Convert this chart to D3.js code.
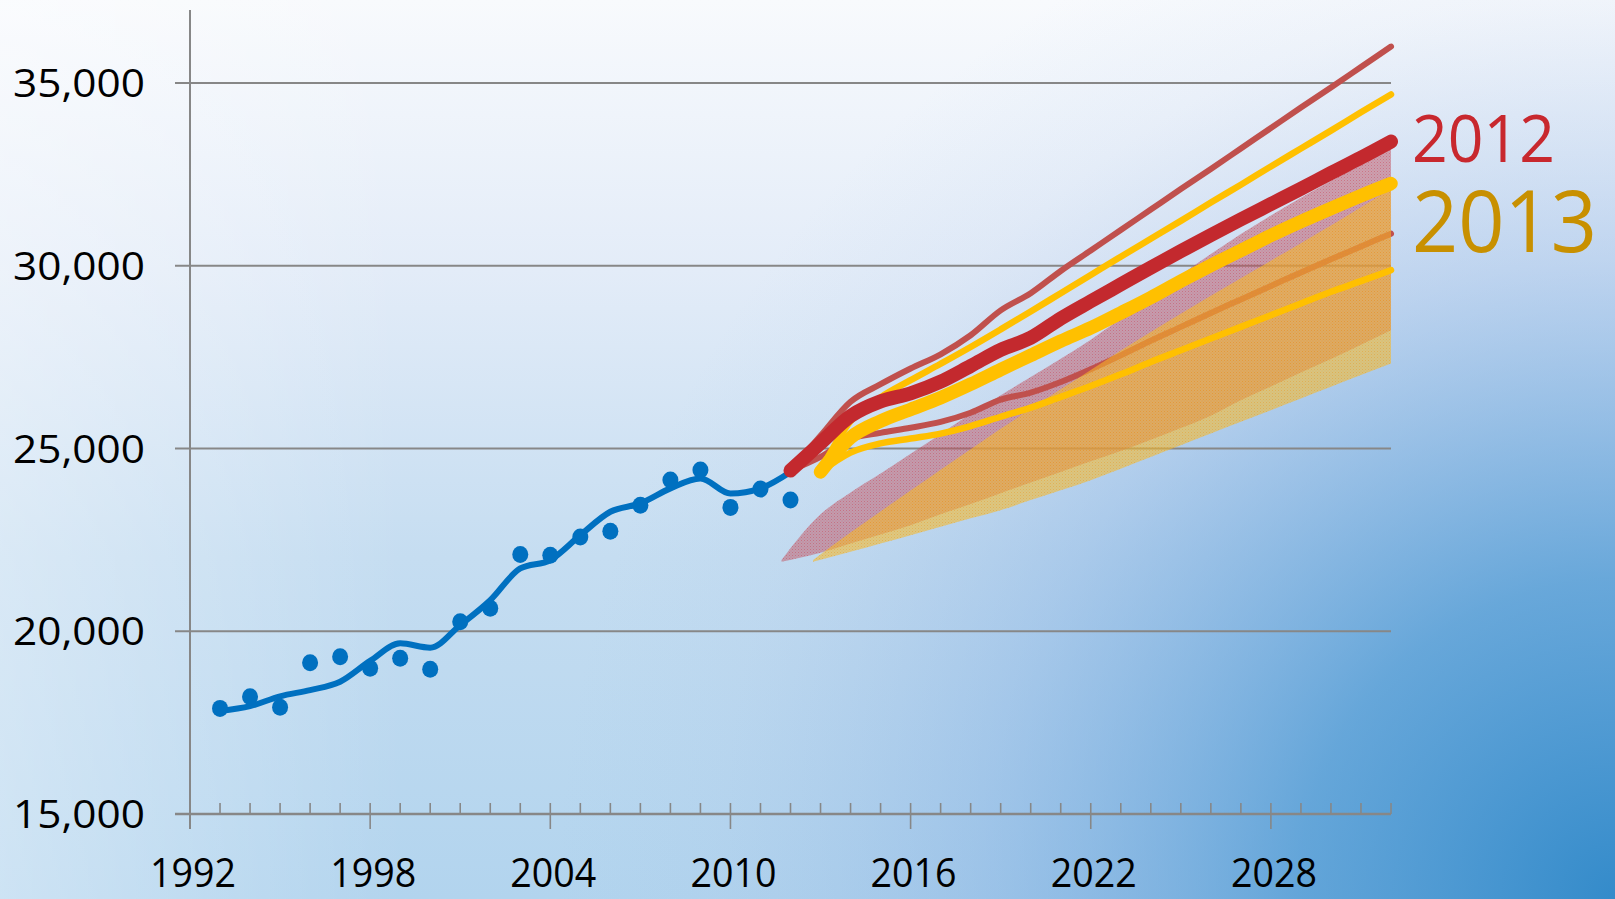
<!DOCTYPE html>
<html><head><meta charset="utf-8">
<script src="https://cdn.jsdelivr.net/npm/d3@7"></script>
<style>html,body{margin:0;padding:0;overflow:hidden;background:#fff}svg{display:block}</style>
</head><body>
<svg id="c" width="1615" height="899"></svg>
<script>
// ---------- DATA ----------
const histYears = [1993,1994,1995,1996,1997,1998,1999,2000,2001,2002,2003,2004,2005,2006,2007,2008,2009,2010,2011,2012];
const actual    = [17890,18210,17920,19140,19300,18990,19260,18960,20260,20630,22100,22080,22580,22740,23450,24140,24410,23390,23890,23590];
const trend     = [17820,17950,18220,18390,18620,19190,19670,19550,20170,20850,21720,21950,22630,23270,23500,23910,24180,23770,23910,24360];

const years2012 = [2012,2013,2014,2015,2016,2017,2018,2019,2020,2021,2022,2023,2024,2025,2026,2027,2028,2029,2030,2031,2032];
const high2012  = [24400,25350,26280,26760,27190,27580,28100,28780,29250,29860,30420,30980,31540,32100,32650,33210,33770,34330,34880,35440,36000];
const mid2012   = [24400,25150,25890,26290,26510,26830,27260,27700,28030,28560,29030,29490,29950,30400,30840,31270,31690,32110,32540,32960,33400];
const low2012   = [24400,24770,25270,25430,25570,25730,25980,26340,26530,26820,27170,27550,27950,28330,28710,29080,29450,29820,30180,30530,30880];

const bandYears2012 = [2011.7,2013,2014,2015,2016,2017,2018,2019,2020,2021,2022,2023,2024,2025,2026,2027,2028,2029,2030,2031,2032];
const bandTop2012 = [21950,23200,23800,24320,24860,25400,25950,26460,26960,27460,27980,28550,29150,29750,30320,30870,31380,31860,32320,32770,33200];
const bandBot2012 = [21900,22150,22400,22650,22900,23200,23480,23780,24070,24360,24650,24930,25240,25560,25900,26320,26700,27080,27450,27840,28240];

const years2013 = [2013,2014,2015,2016,2017,2018,2019,2020,2021,2022,2023,2024,2025,2026,2027,2028,2029,2030,2031,2032];
const high2013  = [24400,25750,26400,26870,27320,27780,28260,28750,29250,29750,30250,30740,31230,31730,32220,32720,33210,33700,34200,34690];
const mid2013   = [24360,25300,25750,26070,26390,26760,27160,27550,27940,28300,28710,29130,29580,30010,30420,30830,31210,31570,31920,32250];
const low2013   = [24360,24890,25140,25275,25410,25615,25870,26120,26414,26710,27030,27370,27690,28010,28330,28650,28970,29290,29580,29880];

const bandYears2013 = [2012.75,2014,2015,2016,2017,2018,2019,2020,2021,2022,2023,2024,2025,2026,2027,2028,2029,2030,2031,2032];
const bandTop2013 = [21950,22700,23280,23850,24420,24980,25540,26080,26620,27150,27680,28190,28690,29180,29660,30140,30620,31100,31600,32100];
const bandBot2013 = [21900,22175,22400,22630,22860,23090,23315,23590,23860,24135,24450,24770,25090,25410,25730,26050,26370,26690,27010,27330];

const xTickYears = [1992,1998,2004,2010,2016,2022,2028];
const yTickValues = [15000,20000,25000,30000,35000];
const seriesLabels = ["2012","2013"];

// ---------- SETUP ----------
const W = 1615, H = 899;
const svg = d3.select("#c");
const x = d3.scaleLinear().domain([1992, 2032]).range([190, 1391]);
const y = d3.scaleLinear().domain([15000, 37000]).range([814, 10]);
const FONT = "'Open Sans', 'Liberation Sans', sans-serif";

const defs = svg.append("defs");
const lg = defs.append("linearGradient").attr("id","bgLin").attr("x1",0).attr("y1",0).attr("x2",0).attr("y2",1);
[[0,"#f8fafd"],[0.3,"#e3ecf8"],[0.62,"#c5ddf1"],[1,"#b2d4ee"]].forEach(s=>lg.append("stop").attr("offset",s[0]).attr("stop-color",s[1]));
const lg2 = defs.append("linearGradient").attr("id","bgLeft").attr("x1",0).attr("y1",0).attr("x2",1).attr("y2",0);
[[0,"#ffffff",0.35],[0.25,"#ffffff",0.0],[1,"#ffffff",0]].forEach(s=>lg2.append("stop").attr("offset",s[0]).attr("stop-color",s[1]).attr("stop-opacity",s[2]));
const rg = defs.append("radialGradient").attr("id","bgRad").attr("gradientUnits","userSpaceOnUse")
  .attr("cx",1615).attr("cy",899).attr("r",1060);
[[0,"rgb(45,135,200)",0.95],[0.3,"rgb(65,145,208)",0.7],[0.6,"rgb(110,160,220)",0.32],[0.85,"rgb(150,180,225)",0.08],[1,"rgb(150,190,230)",0]].forEach(s=>rg.append("stop").attr("offset",s[0]).attr("stop-color",s[1]).attr("stop-opacity",s[2]));

function pattern(id, base, baseOp, dot, dotOp){
  const p = defs.append("pattern").attr("id",id).attr("width",3).attr("height",3).attr("patternUnits","userSpaceOnUse");
  p.append("rect").attr("width",3).attr("height",3).attr("fill",base).attr("fill-opacity",baseOp);
  p.append("rect").attr("width",1).attr("height",1).attr("fill",dot).attr("fill-opacity",dotOp);
  p.append("rect").attr("x",1.5).attr("y",1.5).attr("width",1).attr("height",1).attr("fill",dot).attr("fill-opacity",dotOp*0.7);
}
pattern("pat12","rgb(192,80,90)",0.45,"rgb(205,60,80)",0.45);
pattern("pat13","rgb(248,188,40)",0.55,"rgb(235,150,30)",0.45);

svg.append("rect").attr("width",W).attr("height",H).attr("fill","url(#bgLin)");
svg.append("rect").attr("width",W).attr("height",H).attr("fill","url(#bgLeft)");
svg.append("rect").attr("width",W).attr("height",H).attr("fill","url(#bgRad)");

const axisColor = "#878787";

// gridlines + y labels
const gy = svg.append("g");
yTickValues.forEach(v=>{
  if (v !== 15000) gy.append("line").attr("x1",175).attr("x2",x(2032)).attr("y1",y(v)).attr("y2",y(v))
      .attr("stroke",axisColor).attr("stroke-width",2);
  gy.append("text").attr("x",145).attr("y",y(v)+14).attr("text-anchor","end")
    .attr("font-family",FONT).attr("font-size",39).attr("fill","#000")
    .attr("textLength",132).attr("lengthAdjust","spacingAndGlyphs")
    .text(d3.format(",")(v));
});

// y axis line
svg.append("line").attr("x1",x(1992)).attr("x2",x(1992)).attr("y1",y(37000)).attr("y2",y(15000)+15)
  .attr("stroke",axisColor).attr("stroke-width",2);

// x axis
const gx = svg.append("g");
gx.append("line").attr("x1",175).attr("x2",x(2032)).attr("y1",y(15000)).attr("y2",y(15000))
  .attr("stroke",axisColor).attr("stroke-width",2.5);
d3.range(1993, 2033).forEach(yr=>{
  const major = xTickYears.includes(yr);
  gx.append("line").attr("x1",x(yr)).attr("x2",x(yr)).attr("y1",y(15000)-11).attr("y2",y(15000)+(major?15:0))
    .attr("stroke",axisColor).attr("stroke-width",1.6);
});
xTickYears.forEach(yr=>{
  gx.append("text").attr("x",x(yr)+3).attr("y",887).attr("text-anchor","middle")
    .attr("font-family",FONT).attr("font-size",41).attr("fill","#000")
    .attr("textLength",86).attr("lengthAdjust","spacingAndGlyphs")
    .text(yr);
});

// helpers
const zip = (xs, ys) => xs.map((d,i)=>({x:d, y:ys[i]}));
const lineGen = d3.line().x(d=>x(d.x)).y(d=>y(d.y)).curve(d3.curveMonotoneX);
const areaGen = d3.area().x(d=>x(d.x)).y0(d=>y(d.y0)).y1(d=>y(d.y1)).curve(d3.curveMonotoneX);
function drawLine(xs, ys, color, width){
  svg.append("path").datum(zip(xs,ys)).attr("d",lineGen).attr("fill","none")
    .attr("stroke",color).attr("stroke-width",width).attr("stroke-linecap","round").attr("stroke-linejoin","round");
}

// historical trend + points
drawLine(histYears, trend, "#0070c0", 6);
svg.append("g").selectAll("ellipse").data(zip(histYears, actual)).join("ellipse")
  .attr("cx",d=>x(d.x)).attr("cy",d=>y(d.y)).attr("rx",8).attr("ry",8.5).attr("fill","#0070c0");

// bands
svg.append("path").datum(bandYears2012.map((d,i)=>({x:d,y0:bandBot2012[i],y1:bandTop2012[i]})))
  .attr("d",areaGen).attr("fill","url(#pat12)");
drawLine(years2012, low2012, "#c0504d", 6);
svg.append("path").datum(bandYears2013.map((d,i)=>({x:d,y0:bandBot2013[i],y1:bandTop2013[i]})))
  .attr("d",areaGen).attr("fill","url(#pat13)");

// projection lines
drawLine(years2012, high2012, "#c0504d", 6);
drawLine(years2013, high2013, "#ffc000", 6.5);
drawLine(years2012, mid2012, "#c3292e", 14);
drawLine(years2013, mid2013, "#ffc000", 13.5);
drawLine(years2013, low2013, "#ffc000", 6.5);

// series labels
svg.append("text").attr("x",x(2032)+21).attr("y",162).attr("font-family",FONT).attr("font-size",65)
  .attr("fill","#c8282e").attr("textLength",143).attr("lengthAdjust","spacingAndGlyphs").text(seriesLabels[0]);
svg.append("text").attr("x",x(2032)+21).attr("y",252).attr("font-family",FONT).attr("font-size",86)
  .attr("fill","#c89000").attr("textLength",185).attr("lengthAdjust","spacingAndGlyphs").text(seriesLabels[1]);
</script>
</body></html>
